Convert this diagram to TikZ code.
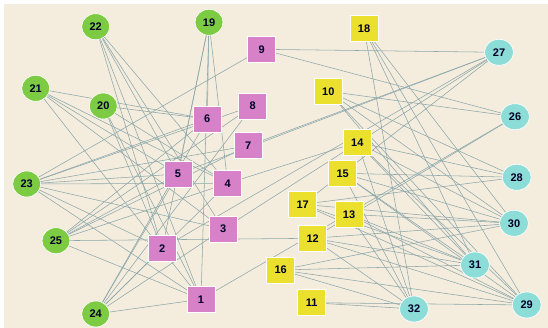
\documentclass[tikz,border=0pt]{standalone}
\usepackage{fontspec}
\setmainfont{Liberation Sans}
\usetikzlibrary{shapes.geometric}
\pgfdeclarelayer{under}
\pgfsetlayers{under,main}
\definecolor{paper}{HTML}{F4EDDE}
\definecolor{leaf}{HTML}{7CCB42}
\definecolor{orchid}{HTML}{D681C8}
\definecolor{lemon}{HTML}{ECE02E}
\definecolor{aqua}{HTML}{8CDCD8}
\definecolor{wire}{HTML}{8DA7AA}
\tikzset{
  base/.style={draw=white, line width=0.6pt, inner sep=0pt,
    font=\fontsize{11}{11}\selectfont\bfseries, text=black!85!blue},
  gnode/.style={base, ellipse, fill=leaf, minimum width=28pt, minimum height=26pt},
  cnode/.style={base, ellipse, fill=aqua, minimum width=29pt, minimum height=26pt},
  pbox/.style={base, rectangle, fill=orchid, minimum width=28pt, minimum height=26pt},
  ybox/.style={base, rectangle, fill=lemon, minimum width=28pt, minimum height=26pt},
  link/.style={draw=wire, line width=0.55pt}
}
\newcommand{\joinall}[2]{\foreach \t in {#2} {\draw[link] (n#1.center) -- (n\t.center);}}
\begin{document}
\begin{tikzpicture}[x=1pt,y=-1pt]
\useasboundingbox (0,0) rectangle (548,328);

% green circles
\node[gnode] (n19) at (209,22.3) {19};
\node[gnode] (n20) at (103.3,106) {20};
\node[gnode] (n21) at (35.7,88.3) {21};
\node[gnode] (n22) at (95.7,26.7) {22};
\node[gnode] (n23) at (26.7,184) {23};
\node[gnode] (n24) at (95.7,314) {24};
\node[gnode] (n25) at (56,240.7) {25};
% pink squares
\node[pbox] (n1) at (201,299.3) {1};
\node[pbox] (n2) at (162.3,248.3) {2};
\node[pbox] (n3) at (223.3,229) {3};
\node[pbox] (n4) at (227.7,183.3) {4};
\node[pbox] (n5) at (178,174) {5};
\node[pbox] (n6) at (207.3,119) {6};
\node[pbox] (n7) at (248.3,145.7) {7};
\node[pbox] (n8) at (252.7,106) {8};
\node[pbox] (n9) at (261.7,49.3) {9};
% yellow squares
\node[ybox] (n10) at (328.3,91.3) {10};
\node[ybox] (n11) at (311.7,302.7) {11};
\node[ybox] (n12) at (312.7,238.3) {12};
\node[ybox] (n13) at (349,214.3) {13};
\node[ybox] (n14) at (357.3,142.3) {14};
\node[ybox] (n15) at (342.7,173.3) {15};
\node[ybox] (n16) at (280.7,270) {16};
\node[ybox] (n17) at (302.7,204.3) {17};
\node[ybox] (n18) at (364,28.3) {18};
% cyan circles
\node[cnode] (n26) at (515,116.7) {26};
\node[cnode] (n27) at (499,52.3) {27};
\node[cnode] (n28) at (516.7,177.3) {28};
\node[cnode] (n29) at (526.7,305) {29};
\node[cnode] (n30) at (514,223.3) {30};
\node[cnode] (n31) at (475,265) {31};
\node[cnode] (n32) at (414,309) {32};

\begin{pgfonlayer}{under}
  \fill[white] (0,0) rectangle (548,328);
  \fill[paper] (4,4) rectangle (548,328);
  % left cluster
  \joinall{19}{6,5,4,1,2}
  \joinall{20}{6,2,1,4}
  \joinall{21}{6,5,4,3,1}
  \joinall{22}{5,3,2,1,4}
  \joinall{23}{9,6,8,7,5,4,3,2,1}
  \joinall{24}{2,5,3,4,6,8,1}
  \joinall{25}{6,8,7,5,4,12,1}
  % links across the middle
  \joinall{27}{9,7,5,2,3,17}
  \joinall{26}{9,10,12}
  \joinall{14}{4}
  \joinall{1}{26}
  % right cluster
  \joinall{10}{28,30,31,29}
  \joinall{18}{31,29,30,32}
  \joinall{14}{28,30,31,32,29}
  \joinall{15}{28,30,31,32,29}
  \joinall{17}{28,30,31,29}
  \joinall{13}{30,31,29,32}
  \joinall{12}{30,31,29,32}
  \joinall{16}{30,31,29,32}
  \joinall{11}{32,29}
\end{pgfonlayer}
\end{tikzpicture}
\end{document}
